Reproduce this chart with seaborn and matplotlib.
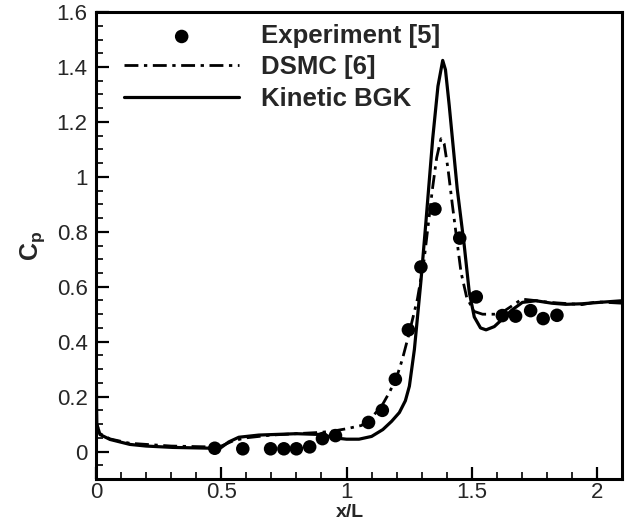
import matplotlib
matplotlib.use("Agg")
import matplotlib.pyplot as plt
import seaborn as sns
from matplotlib.ticker import MultipleLocator, FormatStrFormatter

# Experiment [5]
exp_x = [0.474, 0.586, 0.697, 0.75, 0.80, 0.853, 0.904, 0.956, 1.088, 1.143,
         1.195, 1.247, 1.297, 1.353, 1.452, 1.518, 1.622, 1.675, 1.735, 1.785, 1.84]
exp_cp = [0.012, 0.010, 0.010, 0.010, 0.010, 0.017, 0.047, 0.058, 0.106, 0.150,
          0.263, 0.443, 0.672, 0.883, 0.777, 0.563, 0.495, 0.493, 0.513, 0.484, 0.496]

# DSMC [6]
dsmc_x = [0.0, 0.003, 0.016, 0.056, 0.135, 0.3, 0.45, 0.5, 0.55, 0.6, 0.7, 0.8, 0.9,
          0.95, 1.0, 1.06, 1.104, 1.14, 1.171, 1.2, 1.223, 1.251, 1.283, 1.31, 1.343,
          1.36, 1.377, 1.39, 1.405, 1.423, 1.457, 1.48, 1.51, 1.543, 1.61, 1.66, 1.70,
          1.75, 1.81, 1.94, 2.0, 2.1]
dsmc_cp = [0.445, 0.10, 0.065, 0.046, 0.030, 0.020, 0.017, 0.020, 0.040, 0.050, 0.060,
           0.065, 0.070, 0.075, 0.083, 0.095, 0.128, 0.165, 0.215, 0.27, 0.336, 0.434,
           0.555, 0.70, 0.956, 1.07, 1.139, 1.12, 1.03, 0.895, 0.653, 0.56, 0.51, 0.50,
           0.50, 0.53, 0.555, 0.55, 0.543, 0.535, 0.545, 0.54]

# Kinetic BGK
bgk_x = [0.0, 0.003, 0.016, 0.056, 0.135, 0.2, 0.307, 0.466, 0.5, 0.53, 0.57, 0.65,
         0.8, 0.9, 0.95, 1.0, 1.05, 1.1, 1.145, 1.18, 1.211, 1.235, 1.251, 1.271, 1.297,
         1.317, 1.344, 1.365, 1.384, 1.395, 1.41, 1.442, 1.47, 1.49, 1.51, 1.535, 1.557,
         1.59, 1.622, 1.66, 1.702, 1.756, 1.82, 1.875, 1.94, 2.008, 2.1]
bgk_cp = [0.445, 0.10, 0.062, 0.044, 0.026, 0.020, 0.015, 0.012, 0.015, 0.035, 0.052,
          0.060, 0.065, 0.062, 0.050, 0.045, 0.045, 0.055, 0.080, 0.11, 0.142, 0.185,
          0.238, 0.372, 0.62, 0.836, 1.139, 1.33, 1.424, 1.39, 1.26, 0.956, 0.75, 0.58,
          0.49, 0.45, 0.443, 0.455, 0.482, 0.515, 0.543, 0.549, 0.54, 0.536, 0.538,
          0.543, 0.549]

sns.set_style("ticks")
plt.rcParams['font.family'] = ['Liberation Sans', 'DejaVu Sans']
plt.rcParams['mathtext.fontset'] = 'custom'
plt.rcParams['mathtext.rm'] = 'Liberation Sans'
plt.rcParams['mathtext.bf'] = 'Liberation Sans:bold'

fig = plt.figure(figsize=(6.29, 5.25), dpi=100)
ax = fig.add_axes([0.1526, 0.0876, 0.8364, 0.8894])

sns.lineplot(x=dsmc_x, y=dsmc_cp, ax=ax, color='black', lw=2.0, sort=False,
             estimator=None, linestyle=(0, (5, 2, 1.2, 2)), label='DSMC [6]')
sns.lineplot(x=bgk_x, y=bgk_cp, ax=ax, color='black', lw=2.3, sort=False,
             estimator=None, label='Kinetic BGK')
sns.scatterplot(x=exp_x, y=exp_cp, ax=ax, s=95, color='black', edgecolor='none',
                label='Experiment [5]', zorder=3)

ax.set_xlim(0, 2.1)
ax.set_ylim(-0.1, 1.6)
ax.xaxis.set_major_locator(MultipleLocator(0.5))
ax.xaxis.set_minor_locator(MultipleLocator(0.1))
ax.yaxis.set_major_locator(MultipleLocator(0.2))
ax.yaxis.set_minor_locator(MultipleLocator(0.05))
ax.xaxis.set_major_formatter(FormatStrFormatter('%g'))
ax.yaxis.set_major_formatter(FormatStrFormatter('%g'))
ax.tick_params(which='major', direction='in', length=9, width=1.6, labelsize=16, color='black')
ax.tick_params(which='minor', direction='in', length=5, width=1.2, color='black')
ax.tick_params(axis='x', which='major', pad=2)
ax.tick_params(axis='y', which='major', pad=6)
for sp in ax.spines.values():
    sp.set_linewidth(2.2)
    sp.set_color('black')

ax.set_xlabel('x/L', fontsize=14, fontweight='bold')
ax.set_ylabel(r'$\mathbf{C}_\mathbf{p}$', fontsize=18)
ax.xaxis.set_label_coords(0.483, -0.054)
ax.yaxis.set_label_coords(-0.093, 0.5)

handles, labels = ax.get_legend_handles_labels()
order = [labels.index('Experiment [5]'), labels.index('DSMC [6]'), labels.index('Kinetic BGK')]
ax.legend([handles[i] for i in order], [labels[i] for i in order],
          loc='upper left', bbox_to_anchor=(0.053, 0.974), frameon=False,
          prop={'weight': 'bold', 'size': 18.5}, handlelength=4.5,
          handletextpad=0.85, labelspacing=0.28, borderpad=0, borderaxespad=0)

fig.savefig('out.png', dpi=100)
